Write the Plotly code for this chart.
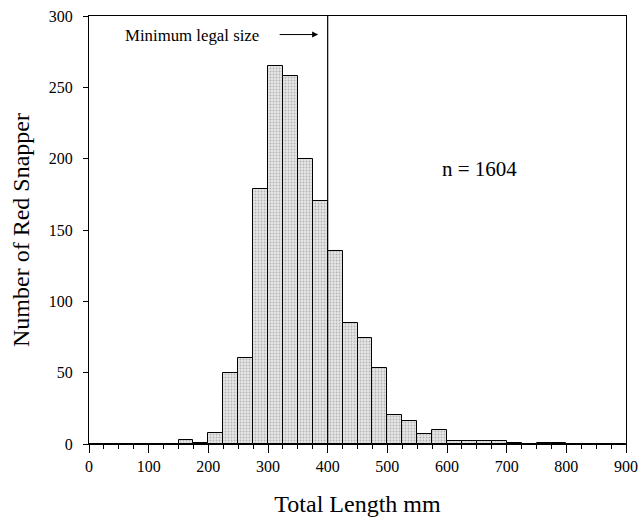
import plotly.graph_objects as go

# Histogram bins (25 mm wide), left edges and counts
bin_left = [0, 25, 50, 75, 100, 125, 150, 175, 200, 225, 250, 275, 300, 325, 350, 375,
            400, 425, 450, 475, 500, 525, 550, 575, 600, 625, 650, 675, 700, 725,
            750, 775, 800, 825, 850, 875]
counts = [0, 0, 0, 0, 0, 0, 3, 1, 8, 50, 60, 179, 265, 258, 200, 170,
          135, 85, 74, 53, 20, 16, 7, 10, 2, 2, 2, 2, 1, 0,
          1, 1, 0, 0, 0, 0]
bin_width = 25
min_legal_size = 400
x_ticks = [0, 100, 200, 300, 400, 500, 600, 700, 800, 900]
y_ticks = [0, 50, 100, 150, 200, 250, 300]

centers = [b + bin_width / 2 for b in bin_left]

fig = go.Figure()
fig.add_trace(go.Bar(
    x=centers, y=counts, width=bin_width,
    marker=dict(color="#d4d4d4",
                line=dict(color="black", width=1),
                pattern=dict(shape=".", size=3, solidity=0.3,
                             fgcolor="#808080", bgcolor="#e6e6e6")),
    showlegend=False,
))

fig.add_shape(type="line", x0=min_legal_size, x1=min_legal_size, y0=0, y1=300,
              xref="x", yref="y", line=dict(color="black", width=1.2))

font_family = "Liberation Serif"

fig.add_annotation(x=172, y=286, text="Minimum legal size", showarrow=False,
                   font=dict(family=font_family, size=16.8, color="black"))
fig.add_annotation(x=384, y=287, ax=317, ay=287, axref="x", ayref="y",
                   xref="x", yref="y", text="", showarrow=True,
                   arrowhead=2, arrowsize=1.2, arrowwidth=1, arrowcolor="black")
fig.add_annotation(x=655, y=193, text="n = 1604", showarrow=False,
                   font=dict(family=font_family, size=21, color="black"))

fig.update_layout(
    width=640, height=524,
    margin=dict(l=89, r=14, t=16, b=80),
    paper_bgcolor="white", plot_bgcolor="white",
    font=dict(family=font_family, color="black"),
    bargap=0,
)
fig.update_xaxes(
    range=[0, 900], tickmode="array", tickvals=x_ticks,
    ticks="outside", ticklen=8, tickwidth=1, tickcolor="black",
    minor=dict(dtick=25, ticks="outside", ticklen=4, tickcolor="black", showgrid=False),
    showline=True, linecolor="black", linewidth=1, mirror=True,
    showgrid=False, zeroline=False, automargin=False, ticklabeloverflow="allow",
    tickfont=dict(family=font_family, size=16),
    title=dict(text="Total Length mm", font=dict(family=font_family, size=24), standoff=20),
)
fig.update_yaxes(
    range=[0, 300], tickmode="array", tickvals=y_ticks,
    ticks="outside", ticklen=5, tickwidth=1, tickcolor="black",
    ticklabelstandoff=7,
    showline=True, linecolor="black", linewidth=1, mirror=True,
    showgrid=False, zeroline=False, automargin=False, ticklabeloverflow="allow",
    tickfont=dict(family=font_family, size=16),
    title=dict(text="Number of Red Snapper", font=dict(family=font_family, size=24), standoff=12),
)

fig.write_html(
    "out.html",
    config={"displayModeBar": False},
    post_script="document.body.style.margin='0';document.body.style.overflow='hidden';",
)
